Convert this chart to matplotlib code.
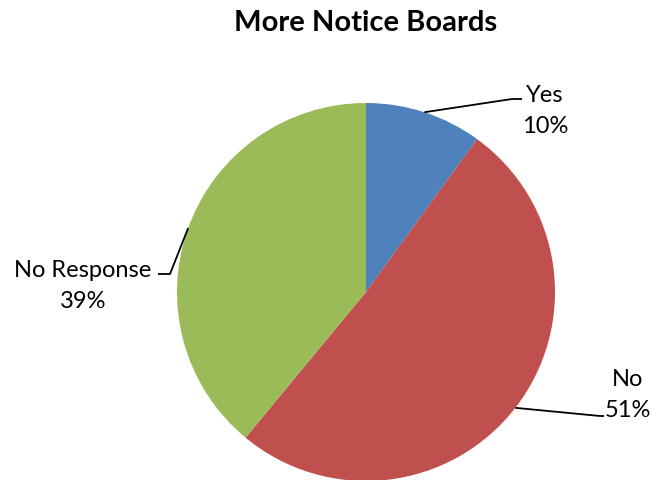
import numpy as np
import matplotlib
matplotlib.use("Agg")
import matplotlib.pyplot as plt

title = "More Notice Boards"
categories = ["Yes", "No", "No Response"]
percents = [10, 51, 39]
colors = ["#4F81BD", "#C0504D", "#9BBB59"]

W, H = 656, 481
fig = plt.figure(figsize=(W / 100, H / 100), dpi=100)
ax = fig.add_axes([0, 0, 1, 1])

cx, cy, r = 366, H - 293, 189
wedges, _ = ax.pie(percents, colors=colors, startangle=90, counterclock=False,
                   center=(cx, cy), radius=r, frame=True,
                   wedgeprops=dict(linewidth=0))
ax.set_xlim(0, W)
ax.set_ylim(0, H)
ax.set_aspect("equal")
ax.axis("off")

font = "Lato"
fig.text(366 / W, 1 - 23 / H, title, ha="center", va="center",
         fontsize=21, fontweight="bold", family=font)

# label layout: (elbow, end, text center) in pixel coords (y from top)
layout = [
    ((512, 100), (522, 100), (545, 111)),
    ((600, 417), (604, 417), (628, 395)),
    ((170, 275), (158, 275), (83, 286)),
]
for w, cat, p, (elb, end, tc) in zip(wedges, categories, percents, layout):
    mid = np.deg2rad((w.theta1 + w.theta2) / 2)
    sx, sy = cx + r * np.cos(mid), cy + r * np.sin(mid)
    ax.plot([sx, elb[0], end[0]], [sy, H - elb[1], H - end[1]],
            color="black", lw=1.3, solid_capstyle="butt")
    ax.text(tc[0], H - tc[1], f"{cat}\n{p}%", ha="center", va="center",
            fontsize=17, family=font, linespacing=1.6)

fig.savefig("out.png", dpi=100)
